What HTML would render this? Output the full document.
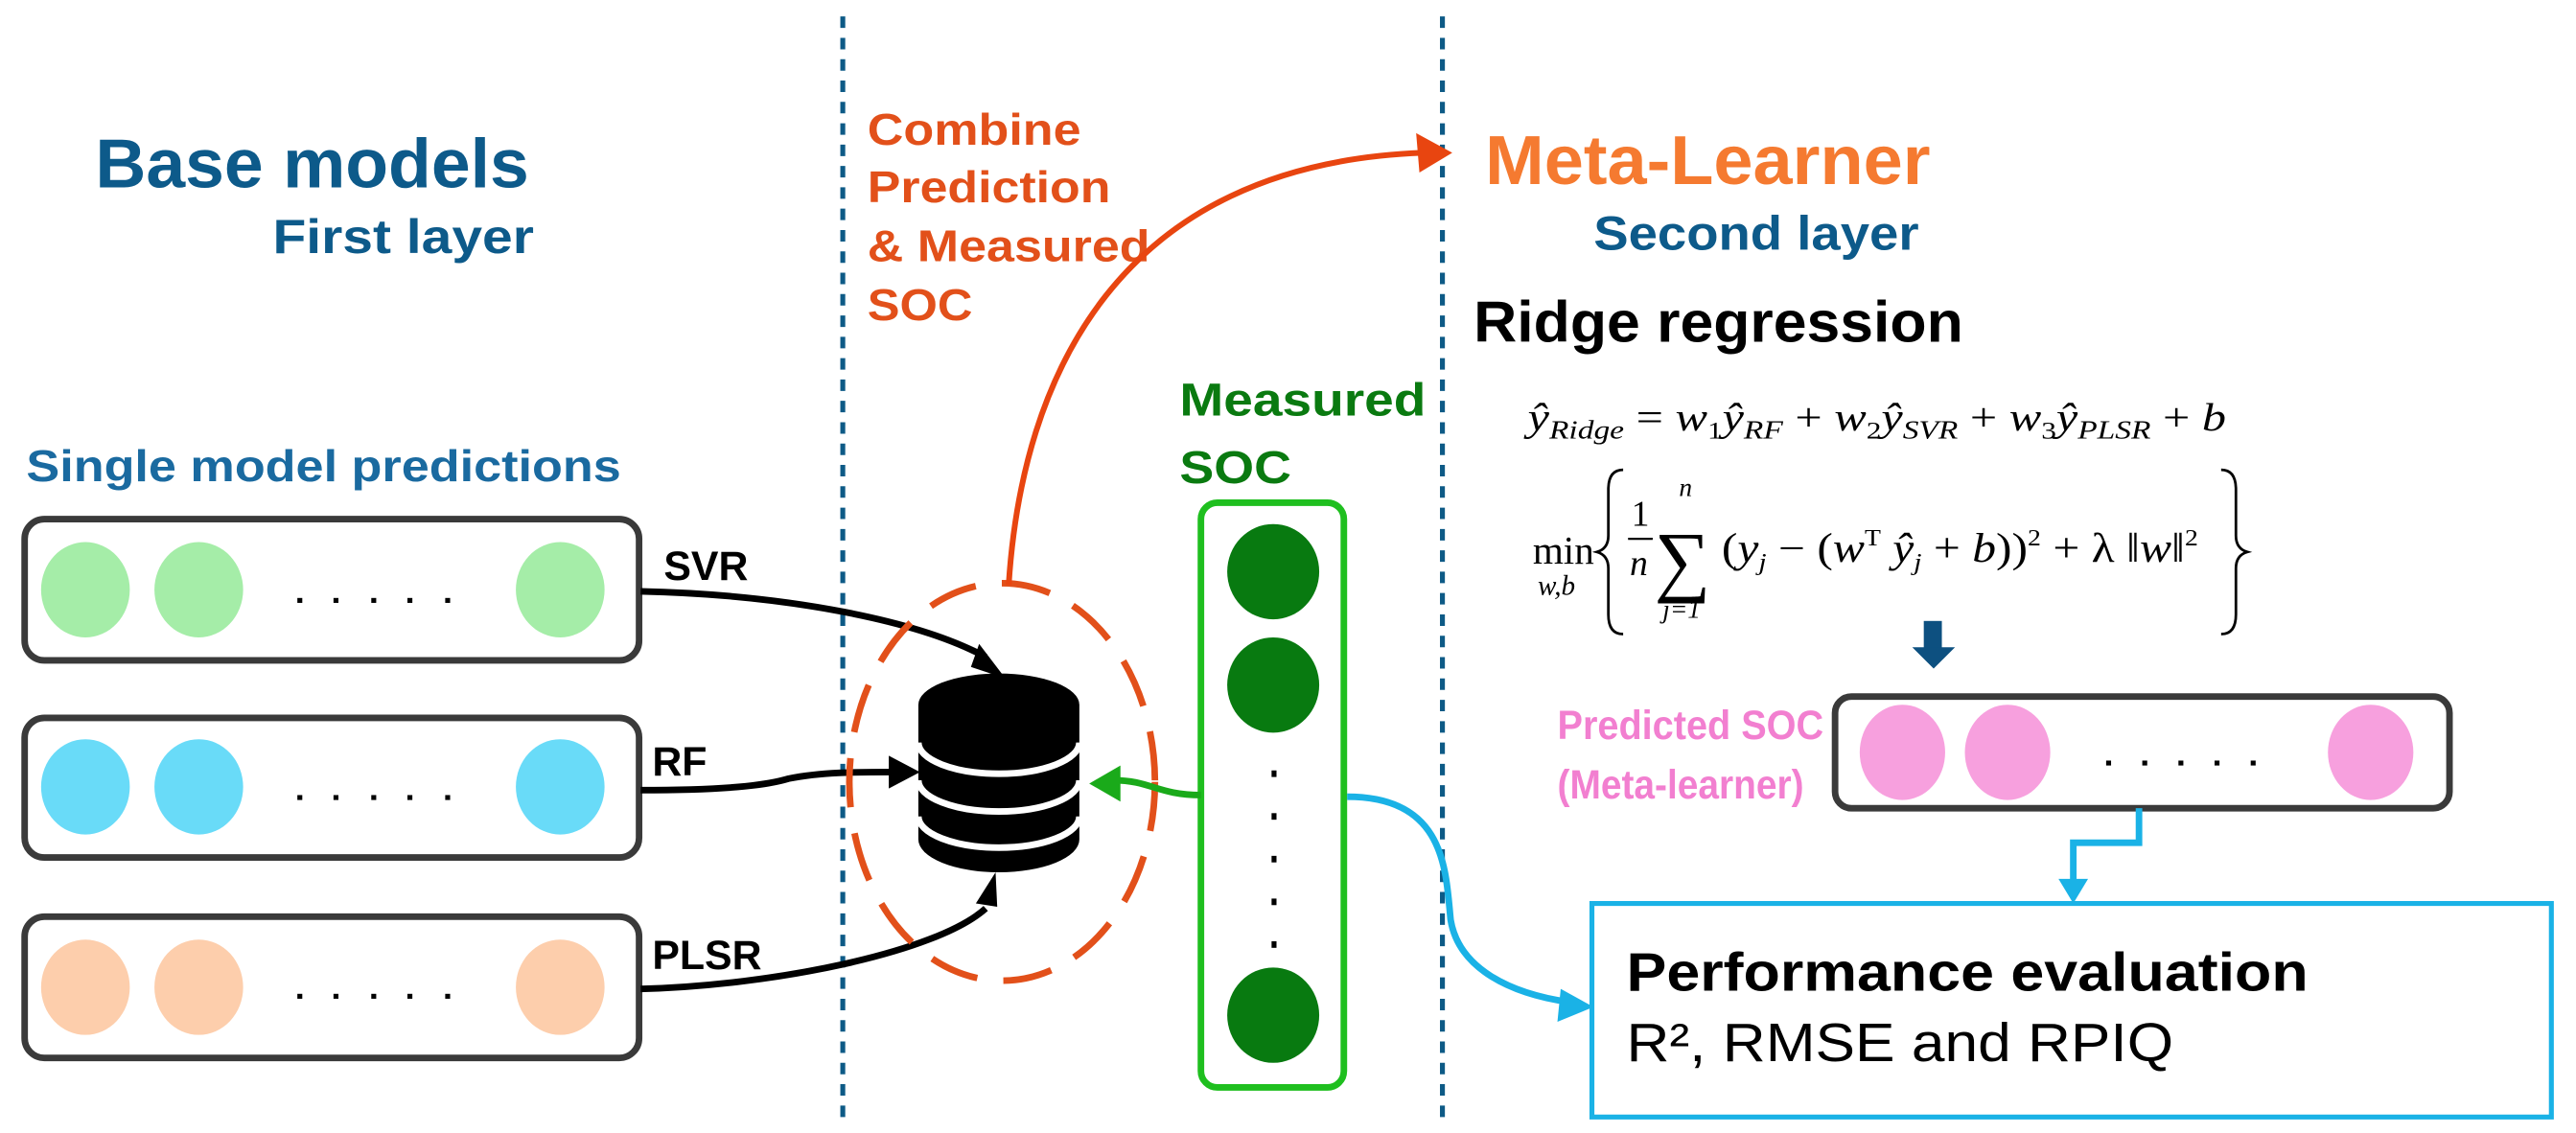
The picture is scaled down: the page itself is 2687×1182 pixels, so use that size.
<!DOCTYPE html>
<html><head><meta charset="utf-8"><style>
html,body{margin:0;padding:0;background:#fff;width:2687px;height:1182px;overflow:hidden}
svg{display:block}
text{font-family:"Liberation Sans",Arial,sans-serif;font-weight:bold}
.m{font-family:"Liberation Serif",serif;font-style:italic;font-weight:normal}
.mn{font-family:"Liberation Serif",serif;font-style:normal;font-weight:normal}
</style></head><body>
<svg width="2687" height="1182" viewBox="0 0 1568 689.7" xmlns="http://www.w3.org/2000/svg">
<!-- dotted dividers -->
<line x1="513" y1="10" x2="513" y2="680" stroke="#0d5a86" stroke-width="3" stroke-dasharray="7,6"/>
<line x1="878" y1="10" x2="878" y2="680" stroke="#0d5a86" stroke-width="3" stroke-dasharray="7,6"/>

<!-- titles -->
<text x="58" y="114" font-size="42" fill="#0d5a8a" textLength="264" lengthAdjust="spacingAndGlyphs">Base models</text>
<text x="166" y="154" font-size="29" fill="#0d5a8a" textLength="159" lengthAdjust="spacingAndGlyphs">First layer</text>
<text x="528" y="88" font-size="27" fill="#e2501a" textLength="130" lengthAdjust="spacingAndGlyphs">Combine</text>
<text x="528" y="123" font-size="27" fill="#e2501a" textLength="148" lengthAdjust="spacingAndGlyphs">Prediction</text>
<text x="528" y="159" font-size="27" fill="#e2501a" textLength="172" lengthAdjust="spacingAndGlyphs">&amp; Measured</text>
<text x="528" y="195" font-size="27" fill="#e2501a" textLength="64" lengthAdjust="spacingAndGlyphs">SOC</text>
<text x="904" y="112" font-size="42" fill="#f57a30" textLength="271" lengthAdjust="spacingAndGlyphs">Meta-Learner</text>
<text x="970" y="152" font-size="29" fill="#0d5a8a" textLength="198" lengthAdjust="spacingAndGlyphs">Second layer</text>
<text x="897" y="208" font-size="35" fill="#000" textLength="298" lengthAdjust="spacingAndGlyphs">Ridge regression</text>

<!-- formulas -->
<text x="930" y="262" font-size="24" class="m" textLength="425" lengthAdjust="spacingAndGlyphs">ŷ<tspan font-size="16" dy="5">Ridge</tspan><tspan dy="-5" class="mn"> = </tspan>w<tspan font-size="15" dy="5" class="mn">1</tspan><tspan dy="-5">ŷ</tspan><tspan font-size="16" dy="5">RF</tspan><tspan dy="-5" class="mn"> + </tspan>w<tspan font-size="15" dy="5" class="mn">2</tspan><tspan dy="-5">ŷ</tspan><tspan font-size="16" dy="5">SVR</tspan><tspan dy="-5" class="mn"> + </tspan>w<tspan font-size="15" dy="5" class="mn">3</tspan><tspan dy="-5">ŷ</tspan><tspan font-size="16" dy="5">PLSR</tspan><tspan dy="-5" class="mn"> + </tspan>b</text>
<text x="933" y="343" font-size="24" class="mn">min</text>
<text x="936" y="362" font-size="17" class="m">w,b</text>
<path d="M988,286 q-9,0 -9,12 v28 q0,8 -7,10 q7,2 7,10 v28 q0,12 9,12" fill="none" stroke="#000" stroke-width="1.6"/>
<text x="993" y="320" font-size="22" class="mn">1</text>
<line x1="991" y1="328" x2="1006" y2="328" stroke="#000" stroke-width="1.3"/>
<text x="992" y="350" font-size="22" class="m">n</text>
<text x="1007" y="357" font-size="48" class="mn">∑</text>
<text x="1022" y="302" font-size="16" class="m">n</text>
<text x="1012" y="376" font-size="16" class="m">j=1</text>
<text x="1048" y="342" font-size="25" class="m" textLength="290" lengthAdjust="spacingAndGlyphs"><tspan class="mn">(</tspan>y<tspan font-size="15" dy="5">j</tspan><tspan dy="-5" class="mn"> − (</tspan>w<tspan font-size="14" dy="-10" class="mn">T</tspan><tspan dy="10"> ŷ</tspan><tspan font-size="15" dy="5">j</tspan><tspan dy="-5" class="mn"> + </tspan>b<tspan class="mn">))</tspan><tspan font-size="14" dy="-10" class="mn">2</tspan><tspan dy="10" class="mn"> + λ ‖</tspan>w<tspan class="mn">‖</tspan><tspan font-size="14" dy="-10" class="mn">2</tspan></text>
<path d="M1352,286 q9,0 9,12 v28 q0,8 7,10 q-7,2 -7,10 v28 q0,12 -9,12" fill="none" stroke="#000" stroke-width="1.6"/>

<!-- down arrow -->
<rect x="1171" y="378" width="11" height="18" fill="#0d5080"/>
<path d="M1164,394 L1190,394 L1177,407 z" fill="#0d5080"/>

<!-- left section -->
<text x="16" y="293" font-size="27" fill="#1a6aa0" textLength="362" lengthAdjust="spacingAndGlyphs">Single model predictions</text>
<g stroke="#3a3a3a" stroke-width="4" fill="#fff">
<rect x="15" y="316" width="374" height="86" rx="12"/>
<rect x="15" y="437" width="374" height="85" rx="12"/>
<rect x="15" y="558" width="374" height="86" rx="12"/>
</g>
<g fill="#a5eda8"><ellipse cx="52" cy="359" rx="27" ry="29"/><ellipse cx="121" cy="359" rx="27" ry="29"/><ellipse cx="341" cy="359" rx="27" ry="29"/></g>
<g fill="#69dbf8"><ellipse cx="52" cy="479" rx="27" ry="29"/><ellipse cx="121" cy="479" rx="27" ry="29"/><ellipse cx="341" cy="479" rx="27" ry="29"/></g>
<g fill="#fdceac"><ellipse cx="52" cy="601" rx="27" ry="29"/><ellipse cx="121" cy="601" rx="27" ry="29"/><ellipse cx="341" cy="601" rx="27" ry="29"/></g>
<g fill="#000">
<rect x="181" y="364" width="3" height="3"/><rect x="203" y="364" width="3" height="3"/><rect x="226" y="364" width="3" height="3"/><rect x="248" y="364" width="3" height="3"/><rect x="271" y="364" width="3" height="3"/>
<rect x="181" y="484" width="3" height="3"/><rect x="203" y="484" width="3" height="3"/><rect x="226" y="484" width="3" height="3"/><rect x="248" y="484" width="3" height="3"/><rect x="271" y="484" width="3" height="3"/>
<rect x="181" y="605" width="3" height="3"/><rect x="203" y="605" width="3" height="3"/><rect x="226" y="605" width="3" height="3"/><rect x="248" y="605" width="3" height="3"/><rect x="271" y="605" width="3" height="3"/>
</g>
<text x="404" y="353" font-size="25" fill="#000">SVR</text>
<text x="397" y="472" font-size="25" fill="#000">RF</text>
<text x="397" y="590" font-size="25" fill="#000">PLSR</text>

<!-- connectors to DB -->
<g stroke="#000" stroke-width="4" fill="none">
<path d="M390,360 C480,362 560,378 600,400"/>
<path d="M390,481 C450,481 470,477 480,474 C500,470 520,470 545,470"/>
<path d="M390,602 C470,600 570,580 600,553"/>
</g>
<path d="M596,392 L612,413 L591,406 z" fill="#000"/>
<path d="M541,460 L560,470 L541,480 z" fill="#000"/>
<path d="M594,550 L606,531 L607,552 z" fill="#000"/>

<!-- dashed ellipse -->
<ellipse cx="610" cy="476" rx="93" ry="121" fill="none" stroke="#e2501a" stroke-width="4" stroke-dasharray="30,16"/>

<!-- database -->
<path d="M559,429 a49,19 0 0 1 98,0 v82 a49,20 0 0 1 -98,0 z" fill="#000"/>
<g fill="none" stroke="#fff" stroke-width="4">
<path d="M559,452 a49,19 0 0 0 98,0"/>
<path d="M559,475 a49,19 0 0 0 98,0"/>
<path d="M559,497 a49,19 0 0 0 98,0"/>
</g>

<!-- orange arrow to meta-learner -->
<path d="M614,356 C622,230 680,100 866,93" fill="none" stroke="#e84510" stroke-width="3.5"/>
<path d="M862,81 L884,93 L864,105 z" fill="#e84510"/>

<!-- measured SOC -->
<text x="718" y="253" font-size="28" fill="#0a7a10" textLength="150" lengthAdjust="spacingAndGlyphs">Measured</text>
<text x="718" y="294" font-size="28" fill="#0a7a10" textLength="68" lengthAdjust="spacingAndGlyphs">SOC</text>
<rect x="731" y="306" width="87" height="356" rx="10" fill="#fff" stroke="#1fbf1f" stroke-width="4"/>
<g fill="#087a10"><ellipse cx="775" cy="348" rx="28" ry="29"/><ellipse cx="775" cy="417" rx="28" ry="29"/><ellipse cx="775" cy="618" rx="28" ry="29"/></g>
<g fill="#000"><rect x="774" y="469" width="3" height="4"/><rect x="774" y="495" width="3" height="4"/><rect x="774" y="521" width="3" height="4"/><rect x="774" y="547" width="3" height="4"/><rect x="774" y="573" width="3" height="4"/></g>
<!-- green arrow -->
<path d="M731,484 C705,484 700,475 678,475" fill="none" stroke="#1aaa1a" stroke-width="4"/>
<path d="M663,477 L682,466 L682,488 z" fill="#1aaa1a"/>

<!-- cyan curve -->
<path d="M820,485 C880,485 880,530 883,560 C888,590 920,605 955,610" fill="none" stroke="#1ab2e6" stroke-width="4"/>
<path d="M970,613 L950,602 L948,622 z" fill="#1ab2e6"/>

<!-- meta prediction -->
<text x="948" y="450" font-size="25" fill="#f27fd0" textLength="162" lengthAdjust="spacingAndGlyphs">Predicted SOC</text>
<text x="948" y="486" font-size="25" fill="#f27fd0" textLength="150" lengthAdjust="spacingAndGlyphs">(Meta-learner)</text>
<rect x="1117" y="424" width="374" height="68" rx="10" fill="#fff" stroke="#3a3a3a" stroke-width="4"/>
<g fill="#f7a0de"><ellipse cx="1158" cy="458" rx="26" ry="29"/><ellipse cx="1222" cy="458" rx="26" ry="29"/><ellipse cx="1443" cy="458" rx="26" ry="29"/></g>
<g fill="#000"><rect x="1282" y="463" width="3" height="3"/><rect x="1304" y="463" width="3" height="3"/><rect x="1326" y="463" width="3" height="3"/><rect x="1348" y="463" width="3" height="3"/><rect x="1370" y="463" width="3" height="3"/></g>

<!-- cyan step connector -->
<path d="M1302,492 V513 H1262 V537" fill="none" stroke="#1ab2e6" stroke-width="4"/>
<path d="M1253,535 L1271,535 L1262,550 z" fill="#1ab2e6"/>

<!-- performance box -->
<rect x="969" y="550" width="584" height="130" fill="#fff" stroke="#1ab2e6" stroke-width="3"/>
<text x="990" y="603" font-size="33" fill="#000" textLength="415" lengthAdjust="spacingAndGlyphs">Performance evaluation</text>
<text x="990" y="646" font-size="33" fill="#000" style="font-weight:normal" textLength="333" lengthAdjust="spacingAndGlyphs">R², RMSE and RPIQ</text>
</svg>
</body></html>
